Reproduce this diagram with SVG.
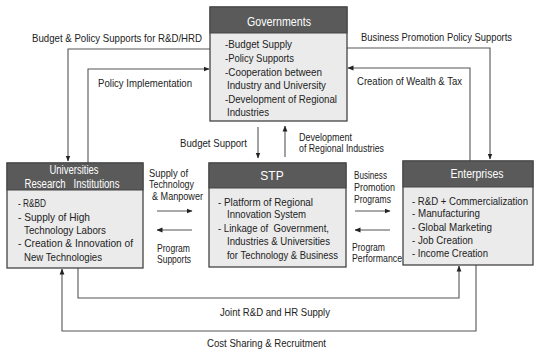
<svg xmlns="http://www.w3.org/2000/svg" width="536" height="352" viewBox="0 0 536 352">
<defs>
<marker id="ah" markerUnits="userSpaceOnUse" markerWidth="6" markerHeight="6" refX="5.5" refY="3" orient="auto">
<path d="M0,0.6 L6,3 L0,5.4 z" fill="#222"/>
</marker>
<style>
text{font-family:"Liberation Sans","Open Sans",Arial,sans-serif;font-size:11px;fill:#222}
.sm{font-size:10px}
.hd{fill:#5a5a5a;stroke:#444;stroke-width:1}
.bd{fill:#ebebeb;stroke:#444;stroke-width:1.3}
.ht{fill:#fff;font-size:12px;text-anchor:middle}
.c{fill:none;stroke:#555;stroke-width:1.1}
.a{marker-end:url(#ah)}
</style>
</defs>
<rect width="536" height="352" fill="#fff"/>
<g id="connectors">
<polyline class="c a" points="210,49 68,49 68,161"/>
<polyline class="c a" points="88,163 88,69 209,69"/>
<line class="c a" x1="258" y1="127" x2="258" y2="158"/>
<line class="c a" x1="285" y1="157" x2="285" y2="126"/>
<polyline class="c a" points="347,48 490,48 490,159"/>
<polyline class="c a" points="470,161 470,68 348,68"/>
<line class="c a" x1="157" y1="211" x2="192" y2="211"/>
<line class="c a" x1="192" y1="230" x2="157" y2="230"/>
<line class="c a" x1="355" y1="211" x2="390" y2="211"/>
<line class="c a" x1="390" y1="230" x2="355" y2="230"/>
<polyline class="c a" points="78,268 78,298 459,298 459,266"/>
<polyline class="c a" points="476,265 476,331 62,331 62,269"/>
<text x="32" y="42" textLength="170" lengthAdjust="spacingAndGlyphs">Budget &amp; Policy Supports for R&amp;D/HRD</text>
<text x="98" y="87" textLength="94" lengthAdjust="spacingAndGlyphs">Policy Implementation</text>
<text x="180" y="147" textLength="67" lengthAdjust="spacingAndGlyphs">Budget Support</text>
<text x="299" y="141" textLength="53" lengthAdjust="spacingAndGlyphs">Development</text>
<text x="299" y="152" textLength="85" lengthAdjust="spacingAndGlyphs">of Regional Industries</text>
<text class="sm" x="361" y="41" textLength="151" lengthAdjust="spacingAndGlyphs">Business Promotion Policy Supports</text>
<text x="357" y="85" textLength="105" lengthAdjust="spacingAndGlyphs">Creation of Wealth &amp; Tax</text>
<text x="149" y="177" textLength="39" lengthAdjust="spacingAndGlyphs">Supply of</text>
<text x="149" y="188" textLength="45" lengthAdjust="spacingAndGlyphs">Technology</text>
<text x="152" y="200" textLength="51" lengthAdjust="spacingAndGlyphs">&amp; Manpower</text>
<text x="157" y="252" textLength="33" lengthAdjust="spacingAndGlyphs">Program</text>
<text x="157" y="263" textLength="34" lengthAdjust="spacingAndGlyphs">Supports</text>
<text x="354" y="179" textLength="33" lengthAdjust="spacingAndGlyphs">Business</text>
<text x="354" y="191" textLength="41" lengthAdjust="spacingAndGlyphs">Promotion</text>
<text x="354" y="203" textLength="37" lengthAdjust="spacingAndGlyphs">Programs</text>
<text x="352" y="251" textLength="33" lengthAdjust="spacingAndGlyphs">Program</text>
<text x="352" y="262" textLength="50" lengthAdjust="spacingAndGlyphs">Performance</text>
<text x="220" y="316" textLength="110" lengthAdjust="spacingAndGlyphs">Joint R&amp;D and HR Supply</text>
<text x="207" y="347" textLength="119" lengthAdjust="spacingAndGlyphs">Cost Sharing &amp; Recruitment</text>
</g>
<g id="governments">
<rect class="bd" x="210" y="7" width="137" height="114"/>
<rect class="hd" x="210" y="7" width="137" height="26"/>
<text class="ht" x="279" y="26" textLength="64" lengthAdjust="spacingAndGlyphs">Governments</text>
<text x="225" y="48" textLength="67" lengthAdjust="spacingAndGlyphs">-Budget Supply</text>
<text x="225" y="62" textLength="69" lengthAdjust="spacingAndGlyphs">-Policy Supports</text>
<text x="225" y="76" textLength="97" lengthAdjust="spacingAndGlyphs">-Cooperation between</text>
<text x="227" y="89" textLength="99" lengthAdjust="spacingAndGlyphs">Industry and University</text>
<text x="225" y="103" textLength="112" lengthAdjust="spacingAndGlyphs">-Development of Regional</text>
<text x="227" y="116" textLength="42" lengthAdjust="spacingAndGlyphs">Industries</text>
</g>
<g id="universities">
<rect class="bd" x="7" y="163" width="136" height="105"/>
<rect class="hd" x="7" y="163" width="136" height="27"/>
<text class="ht" x="74" y="174" textLength="49" lengthAdjust="spacingAndGlyphs">Universities</text>
<text class="ht" x="72" y="188" textLength="95" lengthAdjust="spacingAndGlyphs" xml:space="preserve" style="white-space:pre">Research   Institutions</text>
<text x="18" y="207" textLength="28" lengthAdjust="spacingAndGlyphs">- R&amp;BD</text>
<text x="18" y="221" textLength="72" lengthAdjust="spacingAndGlyphs">- Supply of High</text>
<text x="24" y="234" textLength="82" lengthAdjust="spacingAndGlyphs">Technology Labors</text>
<text x="18" y="247" textLength="115" lengthAdjust="spacingAndGlyphs">- Creation &amp; Innovation of</text>
<text x="24" y="261" textLength="78" lengthAdjust="spacingAndGlyphs">New Technologies</text>
</g>
<g id="stp">
<rect class="bd" x="209" y="163" width="137" height="104"/>
<rect class="hd" x="209" y="163" width="137" height="25"/>
<text class="ht" x="272" y="180">STP</text>
<text x="218" y="206" textLength="95" lengthAdjust="spacingAndGlyphs">- Platform of Regional</text>
<text x="227" y="218" textLength="79" lengthAdjust="spacingAndGlyphs">Innovation System</text>
<text x="218" y="232" textLength="111" lengthAdjust="spacingAndGlyphs" xml:space="preserve" style="white-space:pre">- Linkage of  Government,</text>
<text x="227" y="245" textLength="103" lengthAdjust="spacingAndGlyphs">Industries &amp; Universities</text>
<text x="227" y="259" textLength="111" lengthAdjust="spacingAndGlyphs">for Technology &amp; Business</text>
</g>
<g id="enterprises">
<rect class="bd" x="403" y="161" width="130" height="104"/>
<rect class="hd" x="403" y="161" width="130" height="26"/>
<text class="ht" x="477" y="178" textLength="53" lengthAdjust="spacingAndGlyphs">Enterprises</text>
<text class="sm" x="412" y="205" textLength="116" lengthAdjust="spacingAndGlyphs">- R&amp;D + Commercialization</text>
<text x="412" y="217" textLength="68" lengthAdjust="spacingAndGlyphs">- Manufacturing</text>
<text x="412" y="231" textLength="80" lengthAdjust="spacingAndGlyphs">- Global Marketing</text>
<text x="412" y="244" textLength="61" lengthAdjust="spacingAndGlyphs">- Job Creation</text>
<text x="412" y="257" textLength="76" lengthAdjust="spacingAndGlyphs">- Income Creation</text>
</g>
</svg>
